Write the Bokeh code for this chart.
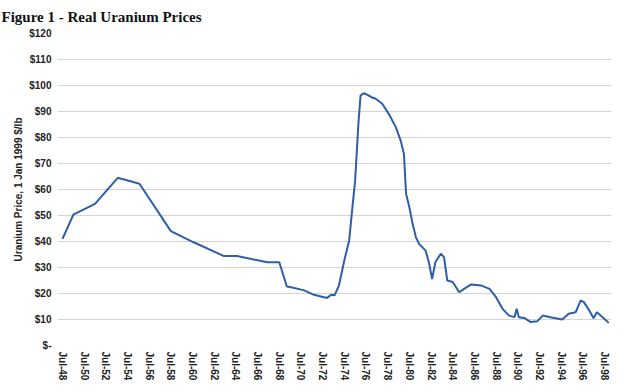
from bokeh.plotting import figure
from bokeh.models import FixedTicker, Range1d
from bokeh.embed import file_html
from bokeh.resources import INLINE

# Real uranium price, 1 Jan 1999 $/lb
years = [1948.5, 1949.5, 1951.5, 1953.6, 1955.6, 1958.5, 1960.6, 1963.4, 1964.6, 1967.4,
         1968.5, 1969.2, 1969.6, 1970.8, 1971.7, 1972.9, 1973.3, 1973.6, 1974.0, 1974.5,
         1974.95, 1975.25, 1975.5, 1975.8, 1976.0, 1976.3, 1976.6, 1977.0, 1977.4, 1978.0,
         1978.6, 1979.25, 1979.7, 1980.0, 1980.2, 1980.5, 1980.8, 1981.1, 1981.4, 1982.0,
         1982.3, 1982.6, 1982.9, 1983.4, 1983.7, 1984.0, 1984.5, 1985.1, 1985.55, 1986.2,
         1987.1, 1987.9, 1988.5, 1989.1, 1989.7, 1990.2, 1990.4, 1990.6, 1991.1, 1991.7,
         1992.3, 1992.8, 1993.5, 1994.6, 1995.2, 1995.85, 1996.3, 1996.6, 1997.1, 1997.5,
         1997.8, 1998.15, 1998.4, 1998.9]
prices = [41.0, 50.3, 54.5, 64.5, 62.2, 44.0, 39.7, 34.4, 34.4, 32.0,
          32.0, 22.7, 22.4, 21.2, 19.5, 18.3, 19.5, 19.3, 23.0, 32.7,
          40.4, 53.2, 63.5, 85.3, 96.2, 97.0, 96.5, 95.5, 94.9, 93.0,
          89.1, 84.0, 78.8, 73.7, 58.3, 53.2, 46.8, 41.7, 39.1, 36.5,
          32.0, 25.6, 32.0, 35.3, 34.0, 25.0, 24.4, 20.5, 21.8, 23.5,
          23.1, 21.8, 18.6, 14.1, 11.5, 10.9, 14.1, 10.9, 10.6, 9.0,
          9.3, 11.5, 10.9, 10.0, 12.2, 12.8, 17.3, 16.7, 13.5, 10.5,
          12.8, 11.5, 10.6, 8.7]

x_tick_pos = [1948.5, 1950.5, 1952.5, 1954.5, 1956.5, 1958.5, 1960.5, 1962.5, 1964.5,
              1966.5, 1968.5, 1970.5, 1972.5, 1974.5, 1976.5, 1978.5, 1980.5, 1982.5,
              1984.5, 1986.5, 1988.5, 1990.5, 1992.5, 1994.5, 1996.5, 1998.5]
x_tick_labels = ["Jul-48", "Jul-50", "Jul-52", "Jul-54", "Jul-56", "Jul-58", "Jul-60",
                 "Jul-62", "Jul-64", "Jul-66", "Jul-68", "Jul-70", "Jul-72", "Jul-74",
                 "Jul-76", "Jul-78", "Jul-80", "Jul-82", "Jul-84", "Jul-86", "Jul-88",
                 "Jul-90", "Jul-92", "Jul-94", "Jul-96", "Jul-98"]
y_tick_pos = [0, 10, 20, 30, 40, 50, 60, 70, 80, 90, 100, 110, 120]
y_tick_labels = ["$-", "$10", "$20", "$30", "$40", "$50", "$60", "$70", "$80", "$90",
                 "$100", "$110", "$120"]

p = figure(frame_width=554, frame_height=312, output_backend="svg", toolbar_location=None,
           x_range=Range1d(1948.04, 1999.15), y_range=Range1d(0, 120),
           min_border_left=57, min_border_right=4, min_border_top=0, min_border_bottom=40,
           margin=(-3, 0, 0, 0),
           title="Figure 1 - Real Uranium Prices")

p.title.text_font = "Liberation Serif"
p.title.text_font_size = "15px"
p.title.text_font_style = "bold"
p.title.text_color = "#111111"
p.title.align = "left"
p.title.offset = -56
p.title.standoff = 18

p.line(years, prices, line_color="#2f5ea8", line_width=2)

p.outline_line_color = None
p.xgrid.grid_line_color = None
p.ygrid.grid_line_color = "#d4d4d4"
p.ygrid.grid_line_width = 1

p.xaxis.ticker = FixedTicker(ticks=x_tick_pos)
p.xaxis.major_label_overrides = {t: l for t, l in zip(x_tick_pos, x_tick_labels)}
p.xaxis.major_label_orientation = "vertical"
p.yaxis.ticker = FixedTicker(ticks=y_tick_pos)
p.yaxis.major_label_overrides = {t: l for t, l in zip(y_tick_pos, y_tick_labels)}
p.yaxis.axis_label = "Uranium Price, 1 Jan 1999 $/lb"

for ax in (p.xaxis, p.yaxis):
    ax.axis_line_color = None
    ax.major_tick_line_color = None
    ax.minor_tick_line_color = None
    ax.major_tick_out = 0
    ax.major_tick_in = 0
    ax.minor_tick_out = 0
    ax.minor_tick_in = 0
    ax.major_label_text_font = "Liberation Sans"
    ax.major_label_text_font_style = "bold"
    ax.major_label_text_font_size = "10px"
    ax.major_label_text_color = "#222222"
    ax.major_label_standoff = 6
    ax.axis_label_text_font = "Liberation Sans"
    ax.axis_label_text_font_style = "bold"
    ax.axis_label_text_font_size = "10px"
    ax.axis_label_text_color = "#222222"
p.yaxis.axis_label_standoff = 2

open("out.html", "w").write(file_html(p, INLINE))
